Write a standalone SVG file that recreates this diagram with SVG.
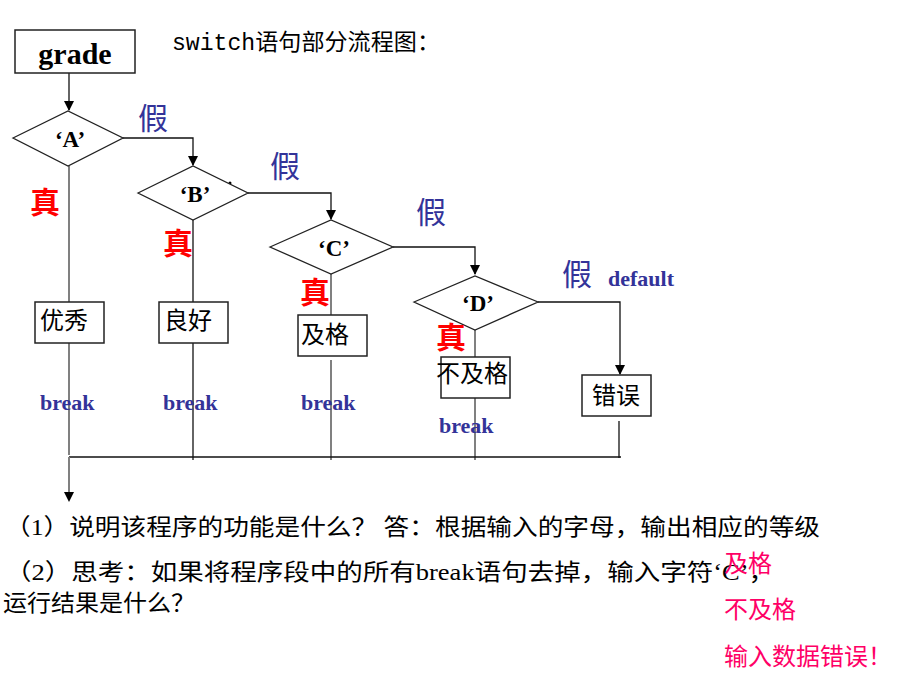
<svg xmlns="http://www.w3.org/2000/svg" width="920" height="690" viewBox="0 0 920 690">
<style>
.box{fill:#fff;stroke:#222;stroke-width:1.5}
.dia{fill:#fff;stroke:#222;stroke-width:1.3}
.ln{fill:none;stroke:#111;stroke-width:1.3}
.gl{fill:none;stroke:#808080;stroke-width:2}
.lbl{font-family:"Liberation Serif",serif;font-weight:bold;fill:#000;text-anchor:middle}
.cn{font-family:"Noto Sans CJK SC",sans-serif;fill:#000;font-size:24px}
.jia{font-family:"Noto Sans CJK SC",sans-serif;fill:#333399;font-size:30px}
.zhen{font-family:"Noto Sans CJK SC",sans-serif;fill:#ff0000;font-size:30px;font-weight:bold}
.brk{font-family:"Liberation Serif",serif;font-weight:bold;fill:#333399;font-size:22px}
.q{font-family:"Liberation Serif","Noto Sans CJK SC",serif;fill:#000;font-size:23px}
.pk{font-family:"Noto Sans CJK SC",sans-serif;fill:#ff0066;font-size:24px}
</style>
<defs>
<marker id="ar" markerWidth="10" markerHeight="10" refX="9" refY="5" orient="auto" markerUnits="userSpaceOnUse">
<path d="M0,0 L10,5 L0,10 z" fill="#000"/>
</marker>
</defs>
<text x="172" y="50" font-family="Liberation Mono,'Noto Sans CJK SC',monospace" font-size="23" fill="#000" textLength="268" lengthAdjust="spacingAndGlyphs">switch语句部分流程图：</text>
<g id="connectors">
<path class="gl" d="M69,166 V455"/>
<path class="ln" d="M69,73 V110" marker-end="url(#ar)"/>
<path class="ln" d="M123,138 H193 V165" marker-end="url(#ar)"/>
<path class="ln" d="M248,193 H331 V219" marker-end="url(#ar)"/>
<path class="ln" d="M393,247 H475 V274" marker-end="url(#ar)"/>
<path class="ln" d="M538,302 H620 V374" marker-end="url(#ar)"/>
<path class="ln" d="M193,220 V460"/>
<path class="gl" d="M331,274 V315 M331,360 V460"/>
<path class="gl" d="M475,330 V357 M475,398 V460"/>
<path class="ln" d="M619,421 V458"/>
<path class="ln" d="M69,457 H621"/>
<path class="gl" d="M69,457 V492"/>
<path d="M64,492 L74,492 L69,502 z" fill="#000"/>
<circle cx="230" cy="183" r="1.5" fill="#000"/>
</g>
<g id="grade"><rect class="box" x="15" y="30" width="120" height="43"/><text class="lbl" x="75" y="64" font-size="30">grade</text></g>
<g id="nodeA"><polygon class="dia" points="13,138 68,111 123,138 68,166"/><text class="lbl" x="70" y="147" font-size="23">‘A’</text></g>
<g id="nodeB"><polygon class="dia" points="138,193 193,166 248,193 193,220"/><text class="lbl" x="195" y="202" font-size="23">‘B’</text></g>
<g id="nodeC"><polygon class="dia" points="270,247 331,220 393,247 331,274"/><text class="lbl" x="334" y="256" font-size="23">‘C’</text></g>
<g id="nodeD"><polygon class="dia" points="414,302 475,276 538,302 475,330"/><text class="lbl" x="478" y="311" font-size="23">‘D’</text></g>
<g id="youxiu"><rect class="box" x="35" y="302" width="69" height="41"/><text class="cn" x="40" y="329">优秀</text></g>
<g id="lianghao"><rect class="box" x="159" y="302" width="69" height="41"/><text class="cn" x="164" y="329">良好</text></g>
<g id="jige"><rect class="box" x="298" y="315" width="69" height="41"/><text class="cn" x="301" y="343">及格</text></g>
<g id="bujige"><rect class="box" x="441" y="357" width="69" height="41"/><text class="cn" x="436" y="382">不及格</text></g>
<g id="cuowu"><rect class="box" x="582" y="375" width="69" height="41"/><text class="cn" x="592" y="404">错误</text></g>
<g id="labels">
<text class="jia" x="138" y="129">假</text>
<text class="jia" x="270" y="177">假</text>
<text class="jia" x="416" y="223">假</text>
<text class="jia" x="562" y="285">假</text>
<text class="zhen" x="30" y="213">真</text>
<text class="zhen" x="163" y="254">真</text>
<text class="zhen" x="300" y="303">真</text>
<text class="zhen" x="436" y="348">真</text>
<text class="brk" x="608" y="286" font-size="21">default</text>
<text class="brk" x="40" y="410">break</text>
<text class="brk" x="163" y="410">break</text>
<text class="brk" x="301" y="410">break</text>
<text class="brk" x="439" y="433">break</text>
</g>
<g id="questions">
<text class="q" x="5" y="535" textLength="815" lengthAdjust="spacingAndGlyphs">（1）说明该程序的功能是什么？ 答：根据输入的字母，输出相应的等级</text>
<text class="q" x="5" y="580" textLength="770" lengthAdjust="spacingAndGlyphs">（2）思考：如果将程序段中的所有break语句去掉，输入字符‘C’，</text>
<text class="q" x="3" y="611" textLength="192" lengthAdjust="spacingAndGlyphs">运行结果是什么？</text>
</g>
<g id="answers">
<text class="pk" x="724" y="572">及格</text>
<text class="pk" x="724" y="618">不及格</text>
<text class="pk" x="724" y="665">输入数据错误！</text>
</g>
</svg>
